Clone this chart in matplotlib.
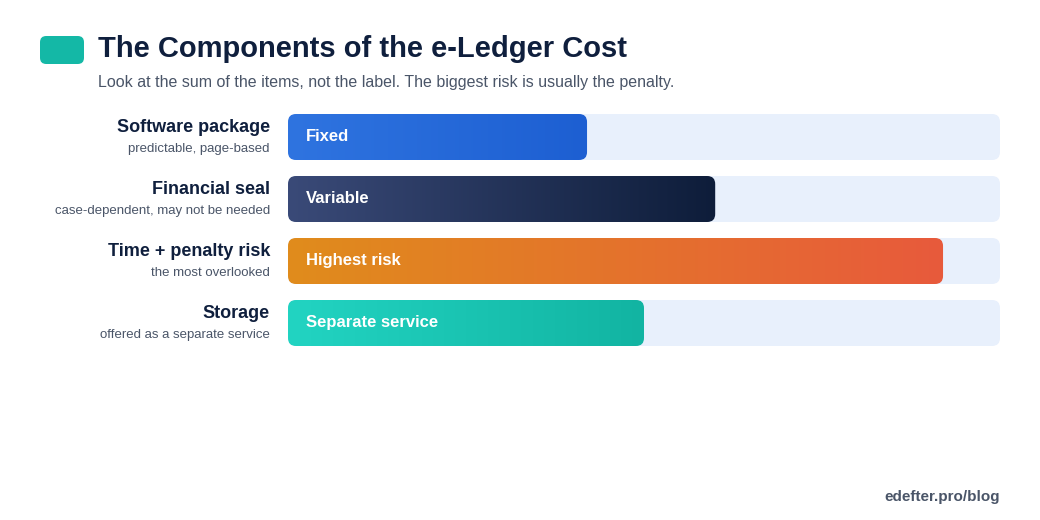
import matplotlib
matplotlib.use("Agg")
import matplotlib.pyplot as plt
import numpy as np
from matplotlib.patches import FancyBboxPatch
from matplotlib.colors import LinearSegmentedColormap

plt.rcParams['font.family'] = ['Liberation Sans', 'DejaVu Sans']

categories = ["Software package", "Financial seal", "Time + penalty risk", "Storage"]
subtitles = ["predictable, page-based", "case-dependent, may not be needed",
             "the most overlooked", "offered as a separate service"]
bar_labels = ["Fixed", "Variable", "Highest risk", "Separate service"]
values = [0.42, 0.60, 0.92, 0.50]
colors = [("#2f74e0", "#1d5fd2"), ("#3a4a78", "#0e1d3a"),
          ("#e08c1c", "#e85a3c"), ("#22d4c2", "#12b4a2")]

W, H = 1040, 520
fig = plt.figure(figsize=(W/100, H/100), dpi=100)
fig.patch.set_facecolor("white")

# header
fig.patches.append(FancyBboxPatch((40/W, 1-64/H), 44/W, 28/H,
    boxstyle="round,pad=0,rounding_size=0.006", transform=fig.transFigure,
    facecolor="#14b8a6", edgecolor="none", mutation_aspect=W/H))
fig.text(98/W, 1-49/H, "The Components of the e-Ledger Cost", fontsize=21,
         fontweight="bold", color="#0f1f3d", va="center")
fig.text(98/W, 1-83/H, "Look at the sum of the items, not the label. The biggest risk is usually the penalty.",
         fontsize=11.5, color="#4a5568", va="center")
fig.text(1000/W, 1-497/H, "edefter.pro/blog", fontsize=11, fontweight="bold",
         color="#4a5568", ha="right", va="center")

ax = fig.add_axes([288/W, 1-354/H, 712/W, 248/H])
ax.set_xlim(0, 1)
ax.set_ylim(3.5, -0.5)
ax.axis("off")
bh = 46/62
asp = 712/62
rs = 8/712
for i, (cat, sub, lab, v, (c1, c2)) in enumerate(zip(categories, subtitles, bar_labels, values, colors)):
    track = FancyBboxPatch((0, i-bh/2), 1, bh, boxstyle=f"round,pad=0,rounding_size={rs}",
                           mutation_aspect=asp, facecolor="#e8f0fc", edgecolor="none", zorder=1)
    ax.add_patch(track)
    bar = FancyBboxPatch((0, i-bh/2), v, bh, boxstyle=f"round,pad=0,rounding_size={rs}",
                         mutation_aspect=asp, facecolor="none", edgecolor="none", zorder=2)
    ax.add_patch(bar)
    cmap = LinearSegmentedColormap.from_list("g", [c1, c2])
    im = ax.imshow(np.linspace(0, 1, 256).reshape(1, -1), cmap=cmap, aspect="auto",
                   extent=(0, v, i+bh/2, i-bh/2), zorder=2)
    im.set_clip_path(bar)
    ax.text(18/712, i, lab, color="white", fontsize=12, fontweight="bold", va="center", zorder=3)
    ax.text(-18/712, i-0.15, cat, color="#0f1f3d", fontsize=13, fontweight="bold",
            ha="right", va="center")
    ax.text(-18/712, i+0.2, sub, color="#4a5568", fontsize=9.5, ha="right", va="center")
ax.set_xlim(0, 1)
ax.set_ylim(3.5, -0.5)

fig.savefig("out.png", dpi=100, facecolor="white")
